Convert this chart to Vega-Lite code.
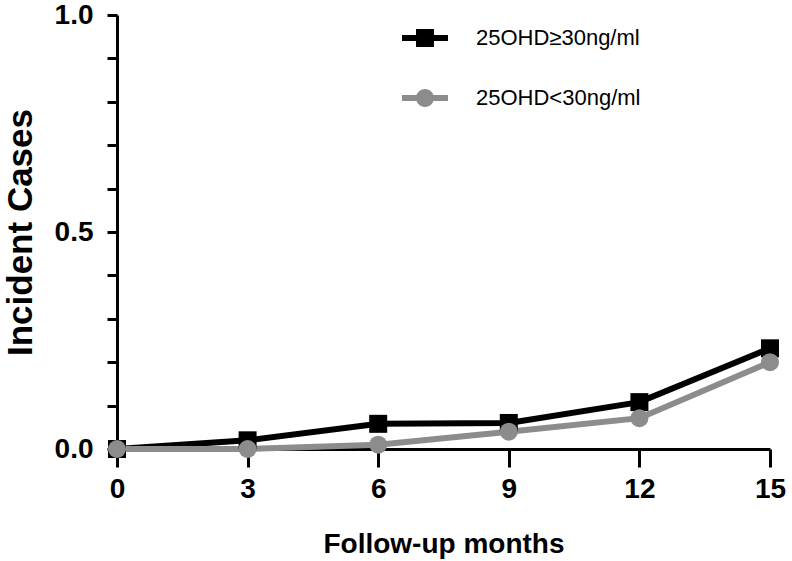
{
  "$schema": "https://vega.github.io/schema/vega-lite/v6.json",
  "width": 653,
  "height": 434,
  "autosize": "none",
  "padding": {"left": 117, "top": 15, "right": 22, "bottom": 112},
  "background": "white",
  "config": {
    "view": {"stroke": null},
    "font": "Liberation Sans"
  },
  "data": {
    "values": [
      {"group": "25OHD≥30ng/ml", "month": 0, "cases": 0},
      {"group": "25OHD≥30ng/ml", "month": 3, "cases": 0.02},
      {"group": "25OHD≥30ng/ml", "month": 6, "cases": 0.058},
      {"group": "25OHD≥30ng/ml", "month": 9, "cases": 0.06},
      {"group": "25OHD≥30ng/ml", "month": 12, "cases": 0.108},
      {"group": "25OHD≥30ng/ml", "month": 15, "cases": 0.232},
      {"group": "25OHD<30ng/ml", "month": 0, "cases": 0},
      {"group": "25OHD<30ng/ml", "month": 3, "cases": 0},
      {"group": "25OHD<30ng/ml", "month": 6, "cases": 0.01},
      {"group": "25OHD<30ng/ml", "month": 9, "cases": 0.04},
      {"group": "25OHD<30ng/ml", "month": 12, "cases": 0.071},
      {"group": "25OHD<30ng/ml", "month": 15, "cases": 0.2}
    ]
  },
  "encoding": {
    "x": {
      "field": "month",
      "type": "quantitative",
      "scale": {"domain": [0, 15], "nice": false, "zero": false},
      "axis": {
        "title": "Follow-up months",
        "values": [0, 3, 6, 9, 12, 15],
        "grid": false,
        "domainColor": "black",
        "domainWidth": 3,
        "tickColor": "black",
        "tickWidth": 3,
        "tickSize": 18,
        "labelFont": "Liberation Sans",
        "labelFontWeight": "bold",
        "labelFontSize": 28,
        "labelColor": "black",
        "labelPadding": 8,
        "labelFlush": false,
        "titleFont": "Liberation Sans",
        "titleFontWeight": "bold",
        "titleFontSize": 28,
        "titleColor": "black",
        "titlePadding": 27
      }
    },
    "y": {
      "field": "cases",
      "type": "quantitative",
      "scale": {"domain": [0, 1], "nice": false},
      "axis": {
        "title": "Incident Cases",
        "values": [0, 0.1, 0.2, 0.3, 0.4, 0.5, 0.6, 0.7, 0.8, 0.9, 1],
        "labelExpr": "datum.value == 0 || datum.value == 0.5 || datum.value == 1 ? format(datum.value, '.1f') : ''",
        "grid": false,
        "domainColor": "black",
        "domainWidth": 3,
        "tickColor": "black",
        "tickWidth": 3,
        "tickSize": 10,
        "labelFont": "Liberation Sans",
        "labelFontWeight": "bold",
        "labelFontSize": 28,
        "labelColor": "black",
        "labelPadding": 14,
        "labelFlush": false,
        "titleFont": "Liberation Sans",
        "titleFontWeight": "bold",
        "titleFontSize": 35,
        "titleColor": "black",
        "titlePadding": 16
      }
    },
    "color": {
      "field": "group",
      "type": "nominal",
      "sort": ["25OHD≥30ng/ml", "25OHD<30ng/ml"],
      "scale": {"domain": ["25OHD≥30ng/ml", "25OHD<30ng/ml"], "range": ["#000000", "#8c8c8c"]},
      "legend": {
        "title": null,
        "orient": "none",
        "legendX": 285,
        "legendY": 0,
        "symbolSize": 2116,
        "symbolStrokeWidth": 0,
        "labelFont": "Liberation Sans",
        "labelFontSize": 22,
        "labelColor": "black",
        "labelLimit": 0,
        "labelOffset": 28,
        "rowPadding": 26,
        "encode": {
          "symbols": {
            "update": {
              "shape": {"signal": "datum.value === '25OHD≥30ng/ml' ? 'M-1,-0.13H1V0.13H-1Z M-0.39,-0.39H0.39V0.39H-0.39Z' : 'M-1,-0.13H1V0.13H-1Z M0,-0.39A0.39,0.39 0 1,1 0,0.39A0.39,0.39 0 1,1 0,-0.39Z'"},
              "strokeWidth": {"value": 0}
            }
          }
        }
      }
    }
  },
  "layer": [
    {
      "mark": {"type": "line", "strokeWidth": 6, "clip": false},
      "encoding": {"detail": {"field": "group"}}
    },
    {
      "transform": [{"filter": "datum.group === '25OHD≥30ng/ml'"}],
      "mark": {"type": "point", "shape": "square", "filled": true, "opacity": 1, "size": 324, "clip": false}
    },
    {
      "transform": [{"filter": "datum.group === '25OHD<30ng/ml'"}],
      "mark": {"type": "point", "shape": "circle", "filled": true, "opacity": 1, "size": 324, "clip": false}
    }
  ]
}
